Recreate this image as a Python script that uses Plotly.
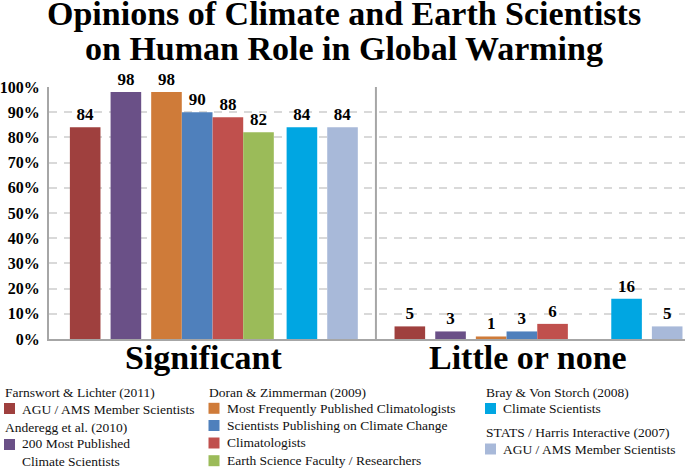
import plotly.graph_objects as go

# ---------------- data ----------------
categories = ["Significant", "Little or none"]

series_names = [
    "AGU / AMS Member Scientists",
    "200 Most Published<br>Climate Scientists",
    "Most Frequently Published Climatologists",
    "Scientists Publishing on Climate Change",
    "Climatologists",
    "Earth Science Faculty / Researchers",
    "Climate Scientists",
    "AGU / AMS Member Scientists",
]

significant = [84, 98, 98, 90, 88, 82, 84, 84]
little_or_none = [5, 3, 1, 3, 6, None, 16, 5]

studies = [
    "Farnswort & Lichter (2011)",
    "Anderegg et al. (2010)",
    "Doran & Zimmerman (2009)",
    "Bray & Von Storch (2008)",
    "STATS / Harris Interactive (2007)",
]

title_lines = ["Opinions of Climate and Earth Scientists",
               "on Human Role in Global Warming"]

# ---------------- styles / layout ----------------
colors = ["#9F403E", "#6A5087", "#CF7B39", "#4F80BC",
          "#C0504D", "#9BBB59", "#00A6E2", "#A8B9D9"]

GROUP_PX = 324.6                     # pixel distance between category centres
bar_px_offsets = [-143.7, -103.0, -62.4, -31.7, -1.0, 29.6, 73.0, 113.6]
BAR_PX_W = 30.6

SERIF = "Liberation Serif"
W, H = 687, 469
ML, MR, MT, MB = 49, 2, 87, 130
PW, PH = W - ML - MR, H - MT - MB


def px(xp):
    return (xp - ML) / PW


def py(yp):
    return (H - MB - yp) / PH


fig = go.Figure()
for i in range(len(series_names)):
    vals = [significant[i], little_or_none[i]]
    fig.add_trace(go.Bar(
        x=categories,
        y=vals,
        text=["" if v is None else str(v) for v in vals],
        texttemplate="%{text}",
        offset=bar_px_offsets[i] / GROUP_PX,
        width=BAR_PX_W / GROUP_PX,
        marker=dict(color=colors[i], line=dict(width=0)),
        textposition="outside",
        constraintext="none",
        cliponaxis=False,
        textfont=dict(family=SERIF, size=17, color="#000000", weight="bold"),
        name=series_names[i],
        showlegend=False,
        hoverinfo="skip",
    ))

annotations = []
shapes = []

# title
for k, line in enumerate(title_lines):
    annotations.append(dict(
        text=line, xref="paper", yref="paper", x=px(W / 2), y=py(13.5 + 35 * k),
        xanchor="center", yanchor="middle", showarrow=False,
        font=dict(family=SERIF, size=34, color="#000000", weight="bold"),
    ))

# category labels under the groups
for cat in categories:
    annotations.append(dict(
        text=cat, xref="x", yref="paper", x=cat, y=py(357), xshift=-10,
        xanchor="center", yanchor="middle", showarrow=False,
        font=dict(family=SERIF, size=34, color="#000000", weight="bold"),
    ))

# separator between categories
shapes.append(dict(type="line", xref="x", yref="paper", x0=0.5, x1=0.5, y0=0, y1=1,
                   line=dict(color="#A6A6A6", width=2)))

# legend (custom, three columns)
LEG_FONT = dict(family=SERIF, size=13.5, color="#111111")
headers = [  # (study index, x, y)
    (0, 4, 392.3), (1, 4, 427.7), (2, 208.3, 392.7), (3, 485, 392.3), (4, 485, 432.3),
]
items = [  # (series index, square x, square y centre, text x, text y centre)
    (0, 4.0, 408.5, 20.7, 409.0),
    (1, 4.0, 444.5, 20.7, 452.4),
    (2, 208.5, 408.3, 226.0, 408.3),
    (3, 208.5, 425.5, 226.0, 425.5),
    (4, 208.5, 443.0, 226.0, 443.0),
    (5, 208.5, 460.7, 226.0, 460.7),
    (6, 485.0, 408.5, 502.3, 408.3),
    (7, 485.0, 449.0, 502.3, 449.0),
]
for si, hx, hy in headers:
    annotations.append(dict(text=studies[si], xref="paper", yref="paper",
                            x=px(hx), y=py(hy), xanchor="left", yanchor="middle",
                            showarrow=False, font=LEG_FONT, borderpad=0))
SQ = 11
for si, sx, sy, tx, ty in items:
    shapes.append(dict(type="rect", xref="paper", yref="paper",
                       x0=px(sx), x1=px(sx + SQ), y0=py(sy + SQ / 2), y1=py(sy - SQ / 2),
                       fillcolor=colors[si], line=dict(width=0)))
    annotations.append(dict(text=series_names[si], xref="paper", yref="paper",
                            x=px(tx), y=py(ty), xanchor="left", yanchor="middle",
                            align="left", showarrow=False, font=LEG_FONT, borderpad=0))

fig.update_layout(
    width=W, height=H,
    margin=dict(l=ML, r=MR, t=MT, b=MB, autoexpand=False),
    paper_bgcolor="white", plot_bgcolor="white",
    barmode="overlay",
    showlegend=False,
    annotations=annotations,
    shapes=shapes,
    xaxis=dict(
        type="category", range=[-0.507, 1.452], automargin=False,
        showline=True, linecolor="#A6A6A6", linewidth=2,
        showgrid=False, zeroline=False, ticks="", showticklabels=False,
    ),
    yaxis=dict(
        range=[0, 100], dtick=10, ticksuffix="%", automargin=False,
        showline=True, linecolor="#A6A6A6", linewidth=2,
        showgrid=True, gridcolor="#D9D9D9", gridwidth=1.5, griddash="8px,7px",
        zeroline=False, ticks="",
        tickfont=dict(family=SERIF, size=16, color="#000000", weight="bold"),
        ticklabelstandoff=4,
    ),
)

fig.write_html(
    "out.html",
    config={"displayModeBar": False},
    post_script="document.body.style.margin='0';document.body.style.padding='0';",
)
